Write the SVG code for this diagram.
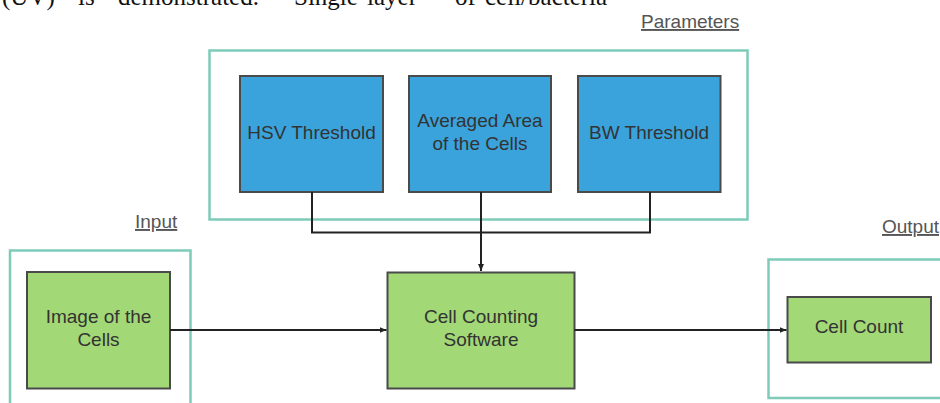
<svg xmlns="http://www.w3.org/2000/svg" width="940" height="403" viewBox="0 0 940 403">
<style>
.cont{fill:none;stroke:#7fcbb9;stroke-width:2.5}
.blue{fill:#3aa3dc;stroke:#4a4a4a;stroke-width:2}
.green{fill:#a2d876;stroke:#4a4a4a;stroke-width:2}
.t{font-family:"Liberation Sans",Arial,sans-serif;font-size:19px;fill:#333;text-anchor:middle}
.lab{font-family:"Liberation Sans",Arial,sans-serif;font-size:19px;fill:#555;text-decoration:underline}
.top{font-family:"Liberation Serif","Times New Roman",serif;font-size:25px;fill:#111}
.ln{fill:none;stroke:#222;stroke-width:2}
</style>
<defs>
<marker id="ah" markerWidth="8" markerHeight="8" refX="7" refY="4" orient="auto" markerUnits="userSpaceOnUse">
<path d="M0,1 L7,4 L0,7 Z" fill="#222"/>
</marker>
</defs>
<rect width="940" height="403" fill="#fff"/>
<text class="top" y="5"><tspan x="2">(UV)</tspan><tspan x="78">is</tspan><tspan x="118">demonstrated.</tspan><tspan x="294">Single</tspan><tspan x="367">layer</tspan><tspan x="455">of</tspan><tspan x="485">cell/bacteria</tspan></text>

<g id="parameters">
<rect class="cont" x="209.5" y="50.5" width="538" height="169"/>
<text class="lab" x="641" y="28">Parameters</text>
</g>
<g id="input">
<rect class="cont" x="10" y="250.5" width="180.5" height="170"/>
<text class="lab" x="135" y="228">Input</text>
</g>
<g id="output">
<rect class="cont" x="768.5" y="259.5" width="190" height="138.5"/>
<text class="lab" x="882" y="233">Output</text>
</g>

<g id="hsv">
<rect class="blue" x="240" y="76" width="143" height="116"/>
<text class="t" x="311.5" y="139">HSV Threshold</text>
</g>
<g id="area">
<rect class="blue" x="409" y="76" width="142" height="116"/>
<text class="t" x="480" y="127">Averaged Area</text>
<text class="t" x="480" y="150">of the Cells</text>
</g>
<g id="bw">
<rect class="blue" x="578" y="76" width="142.5" height="116"/>
<text class="t" x="649" y="139">BW Threshold</text>
</g>
<g id="image">
<rect class="green" x="27" y="272" width="143" height="116.5"/>
<text class="t" x="98.5" y="323">Image of the</text>
<text class="t" x="98.5" y="346">Cells</text>
</g>
<g id="software">
<rect class="green" x="387.5" y="272.5" width="187" height="116"/>
<text class="t" x="481" y="323">Cell Counting</text>
<text class="t" x="481" y="346">Software</text>
</g>
<g id="count">
<rect class="green" x="787.5" y="297" width="143.5" height="65.5"/>
<text class="t" x="859" y="333">Cell Count</text>
</g>

<g id="connectors">
<path class="ln" d="M312,192 V232.5 H650 V192"/>
<path class="ln" d="M481,192 V271" marker-end="url(#ah)"/>
<path class="ln" d="M170,330 H386.5" marker-end="url(#ah)"/>
<path class="ln" d="M574.5,330 H786.5" marker-end="url(#ah)"/>
</g>
</svg>
